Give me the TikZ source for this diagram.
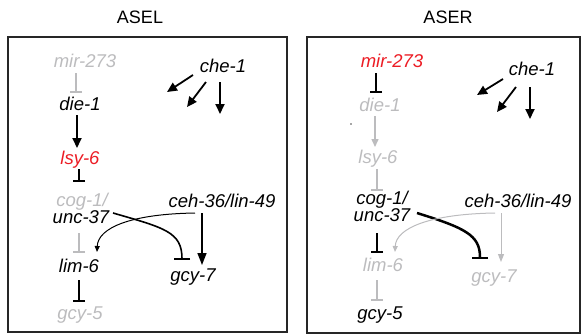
\documentclass[tikz,border=0pt]{standalone}
\usepackage{fontspec}
\setmainfont{Liberation Sans}
\usetikzlibrary{arrows.meta,calc}
\definecolor{gtx}{RGB}{188,188,190}
\definecolor{rtx}{RGB}{236,28,36}
\newcommand\gf{\fontsize{18.5}{22}\selectfont\itshape}
\newcommand\tf{\fontsize{18}{22}\selectfont}
\tikzset{
  gene/.style={font=\gf, inner sep=0pt, anchor=base},
  ttl/.style={font=\tf, inner sep=0pt, anchor=base},
  panel/.style={draw=black!85, line width=2pt},
  inh/.style={-{Bar[width=12pt]}, line width=2pt},
  inhc/.style={-{Bar[width=16pt]}},
  act/.style={-{Triangle[length=10pt,width=9pt]}, line width=1.8pt},
  actg/.style={-{Triangle[length=8pt,width=7pt]}, line width=1.5pt},
  acts/.style={-{Triangle[length=6pt,width=5pt]}, line width=1pt},
}
\begin{document}
\begin{tikzpicture}[x=1pt,y=-1pt]
\useasboundingbox (0,0) rectangle (581,335);
% titles and panels
\node[ttl] (tL) at (140,23) {ASEL};
\node[ttl] (tR) at (448,23) {ASER};
\draw[panel] (8,37) rectangle (287,332);
\draw[panel] (307,37) rectangle (579.5,333);

% ---------- ASEL ----------
\node[gene, text=gtx] (mirL) at (85,67) {mir-273};
\node[gene] (dieL) at (80,110) {die-1};
\node[gene, text=rtx] (lsyL) at (80,164) {lsy-6};
\node[gene] (cheL) at (223,72) {che-1};
\node[gene, text=gtx] (cogL) at (82,206) {cog-1/};
\node[gene] (uncL) at (81,223) {unc-37};
\node[gene] (limL) at (79,272) {lim-6};
\node[gene, text=gtx] (gcyfL) at (80,319) {gcy-5};
\node[gene] (cehL) at (222,207) {ceh-36/lin-49};
\node[gene] (gcysL) at (193,281) {gcy-7};
\coordinate (cLa) at (167,92);
\coordinate (cLb) at (187,107);
\coordinate (cLc) at (220,114);

\draw[inh, gtx] ($(mirL.base)+(-9,6)$) -- ($(dieL.base)+(-4,-17)$);
\draw[act] ($(dieL.base)+(-3,5)$) -- ($(lsyL.base)+(-3,-16)$);
\draw[inh] ($(lsyL.base)+(-1,5)$) -- ($(cogL.base)+(-3,-24)$);
\draw[inh, gtx] ($(uncL.base)+(-2,10)$) -- ($(limL.base)+(0,-19)$);
\draw[inh] ($(limL.base)+(0,8)$) -- ($(gcyfL.base)+(-1,-17)$);
\draw[act] ($(cheL.base)+(-30,3)$) -- (cLa);
\draw[act] ($(cheL.base)+(-17,10)$) -- (cLb);
\draw[act] ($(cheL.base)+(-3,10)$) -- (cLc);
\draw[act, -{Triangle[length=12pt,width=9pt]}, line width=1.5pt] ($(cehL.base)+(-20,6)$) -- ($(gcysL.base)+(9,-16)$);
\draw[inhc, line width=1.6pt] ($(uncL.base)+(32,-10)$) .. controls +(52,15) and +(0,-28) .. ($(gcysL.base)+(-11,-21)$);
\draw[acts] ($(cehL.base)+(-27,6)$) .. controls +(-65,1) and +(1,-24) .. ($(limL.base)+(18,-20)$);

% ---------- ASER ----------
\node[gene, text=rtx] (mirR) at (392,67) {mir-273};
\node[gene, text=gtx] (dieR) at (380,111) {die-1};
\node[gene, text=gtx] (lsyR) at (378,163) {lsy-6};
\node[gene] (cheR) at (532,75) {che-1};
\node[gene] (cogR) at (382,204) {cog-1/};
\node[gene] (uncR) at (382,221) {unc-37};
\node[gene, text=gtx] (limR) at (383,271) {lim-6};
\node[gene] (gcyfR) at (380,319) {gcy-5};
\node[gene] (cehR) at (518,207) {ceh-36/lin-49};
\node[gene, text=gtx] (gcysR) at (494,282) {gcy-7};
\coordinate (cRa) at (477,95);
\coordinate (cRb) at (497,112);
\coordinate (cRc) at (530,119);
\fill[black!70] (351,124) circle (0.8);

\draw[inh] ($(mirR.base)+(-16,6)$) -- ($(dieR.base)+(-4,-18)$);
\draw[actg, gtx] ($(dieR.base)+(-5,5)$) -- ($(lsyR.base)+(-3,-16)$);
\draw[inh, gtx] ($(lsyR.base)+(-1,6)$) -- ($(cogR.base)+(-5,-13)$);
\draw[inh] ($(uncR.base)+(-5,12)$) -- ($(limR.base)+(-6,-18)$);
\draw[inh, gtx] ($(limR.base)+(-6,9)$) -- ($(gcyfR.base)+(-3,-18)$);
\draw[act] ($(cheR.base)+(-29,4)$) -- (cRa);
\draw[act] ($(cheR.base)+(-16,12)$) -- (cRb);
\draw[act] ($(cheR.base)+(-2,12)$) -- (cRc);
\draw[acts, gtx, -{Triangle[length=8pt,width=6pt]}] ($(cehR.base)+(-17,6)$) -- ($(gcysR.base)+(7,-20)$);
\draw[inhc, line width=2.5pt] ($(uncR.base)+(35,-8)$) .. controls +(48,15) and +(0,-24) .. ($(gcysR.base)+(-14,-23)$);
\draw[acts, gtx] ($(cehR.base)+(-23,6)$) .. controls +(-65,1) and +(1,-24) .. ($(limR.base)+(12,-19)$);
\end{tikzpicture}
\end{document}
